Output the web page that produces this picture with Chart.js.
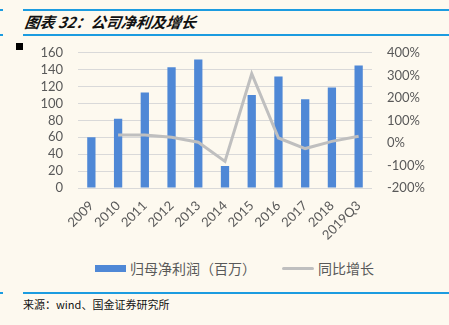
<!DOCTYPE html>
<html>
<head>
<meta charset="utf-8">
<script src="https://cdn.jsdelivr.net/npm/chart.js@4/dist/chart.umd.min.js"></script>
<style>
    html, body { margin: 0; padding: 0; }
    body {
        width: 449px; height: 325px; position: relative; overflow: hidden;
        background: #fdf9ef;
        font-family: "Noto Sans CJK SC", "Noto Sans", sans-serif;
    }
    .rule { position: absolute; height: 2px; background: #1c9ce0; }
    .title {
        position: absolute; left: 25px; top: 11px;
        font-size: 15px; font-weight: bold; font-style: italic; color: #111;
        transform: skewX(-8deg);
    }
    .mark { position: absolute; left: 16px; top: 43px; width: 7px; height: 7px; background: #000; }
    .chart-box { position: absolute; left: 0; top: 30px; width: 449px; height: 220px; }
    .legend {
        position: absolute; top: 258px; left: 0; width: 449px; height: 20px;
        font-size: 14px; color: #595959;
    }
    .legend span { position: absolute; top: 0; line-height: 20px; }
    .swatch-bar { position: absolute; left: 95px; top: 7px; width: 31px; height: 7px; background: #4f88d6; }
    .swatch-line { position: absolute; left: 282px; top: 9px; width: 32px; height: 3px; background: #bfbfbf; border-radius: 2px; }
    .source { position: absolute; left: 23px; top: 296px; font-size: 11px; color: #111; }
</style>
</head>
<body>
<div class="rule" style="left:0;top:9px;width:3px"></div>
<div class="rule" style="left:23px;top:9px;width:426px"></div>
<div class="title">图表 32：公司净利及增长</div>
<div class="rule" style="left:0;top:34px;width:3px"></div>
<div class="rule" style="left:23px;top:34px;width:426px"></div>

<div class="chart-box"><canvas id="profitChart" width="449" height="220"></canvas></div>
<div class="mark"></div>

<div class="legend">
    <div class="swatch-bar"></div><span style="left:130px">归母净利润（百万）</span>
    <div class="swatch-line"></div><span style="left:318px">同比增长</span>
</div>
<div class="rule" style="left:0;top:292px;width:3px"></div>
<div class="rule" style="left:23px;top:292px;width:426px"></div>
<div class="source">来源：wind、国金证券研究所</div>

<script>
    // 年度归母净利润（百万）与同比增长
    const years = ['2009', '2010', '2011', '2012', '2013', '2014', '2015', '2016', '2017', '2018', '2019Q3'];
    const netProfit = [60, 82, 113, 143, 152, 26, 110, 132, 105, 119, 145];
    const yoyGrowth = [null, 35, 35, 25, 3, -82, 307, 22, -25, 7, 30];

    const leftTicks = [0, 20, 40, 60, 80, 100, 120, 140, 160];
    const rightTicks = [-200, -100, 0, 100, 200, 300, 400];

    const tickColor = '#595959';
    const tickFont = { family: 'Lato, "Open Sans", sans-serif', size: 13 };

    new Chart(document.getElementById('profitChart'), {
        data: {
            labels: years,
            datasets: [
                {
                    type: 'line',
                    label: '同比增长',
                    data: yoyGrowth,
                    yAxisID: 'y1',
                    borderColor: '#bfbfbf',
                    borderWidth: 3,
                    pointRadius: 0,
                    tension: 0,
                    order: 0
                },
                {
                    type: 'bar',
                    label: '归母净利润（百万）',
                    data: netProfit,
                    yAxisID: 'y',
                    backgroundColor: '#4f88d6',
                    categoryPercentage: 1,
                    barPercentage: 0.31,
                    order: 1
                }
            ]
        },
        options: {
            responsive: false,
            animation: false,
            layout: { padding: { top: 3, left: 0, right: 0, bottom: 0 } },
            plugins: {
                legend: { display: false },
                tooltip: { enabled: false }
            },
            scales: {
                x: {
                    grid: { display: false },
                    border: { display: false },
                    ticks: {
                        color: tickColor,
                        font: tickFont,
                        maxRotation: 45,
                        minRotation: 45,
                        padding: 2,
                        autoSkip: false
                    },
                    afterFit(scale) { scale.height = 62; }
                },
                y: {
                    position: 'left',
                    min: 0,
                    max: 160,
                    afterBuildTicks(scale) { scale.ticks = leftTicks.map(v => ({ value: v })); },
                    grid: { color: '#d9d9d9', lineWidth: 1, drawTicks: false },
                    border: { display: false },
                    ticks: { color: tickColor, font: tickFont, padding: 15, autoSkip: false },
                    afterFit(scale) { scale.width = 78; }
                },
                y1: {
                    position: 'right',
                    min: -200,
                    max: 400,
                    afterBuildTicks(scale) { scale.ticks = rightTicks.map(v => ({ value: v })); },
                    grid: { display: false, drawTicks: false },
                    border: { display: false },
                    ticks: {
                        color: tickColor,
                        font: tickFont,
                        padding: 15,
                        autoSkip: false,
                        callback: v => v + '%'
                    },
                    afterFit(scale) { scale.width = 77; }
                }
            }
        }
    });
</script>
</body>
</html>
